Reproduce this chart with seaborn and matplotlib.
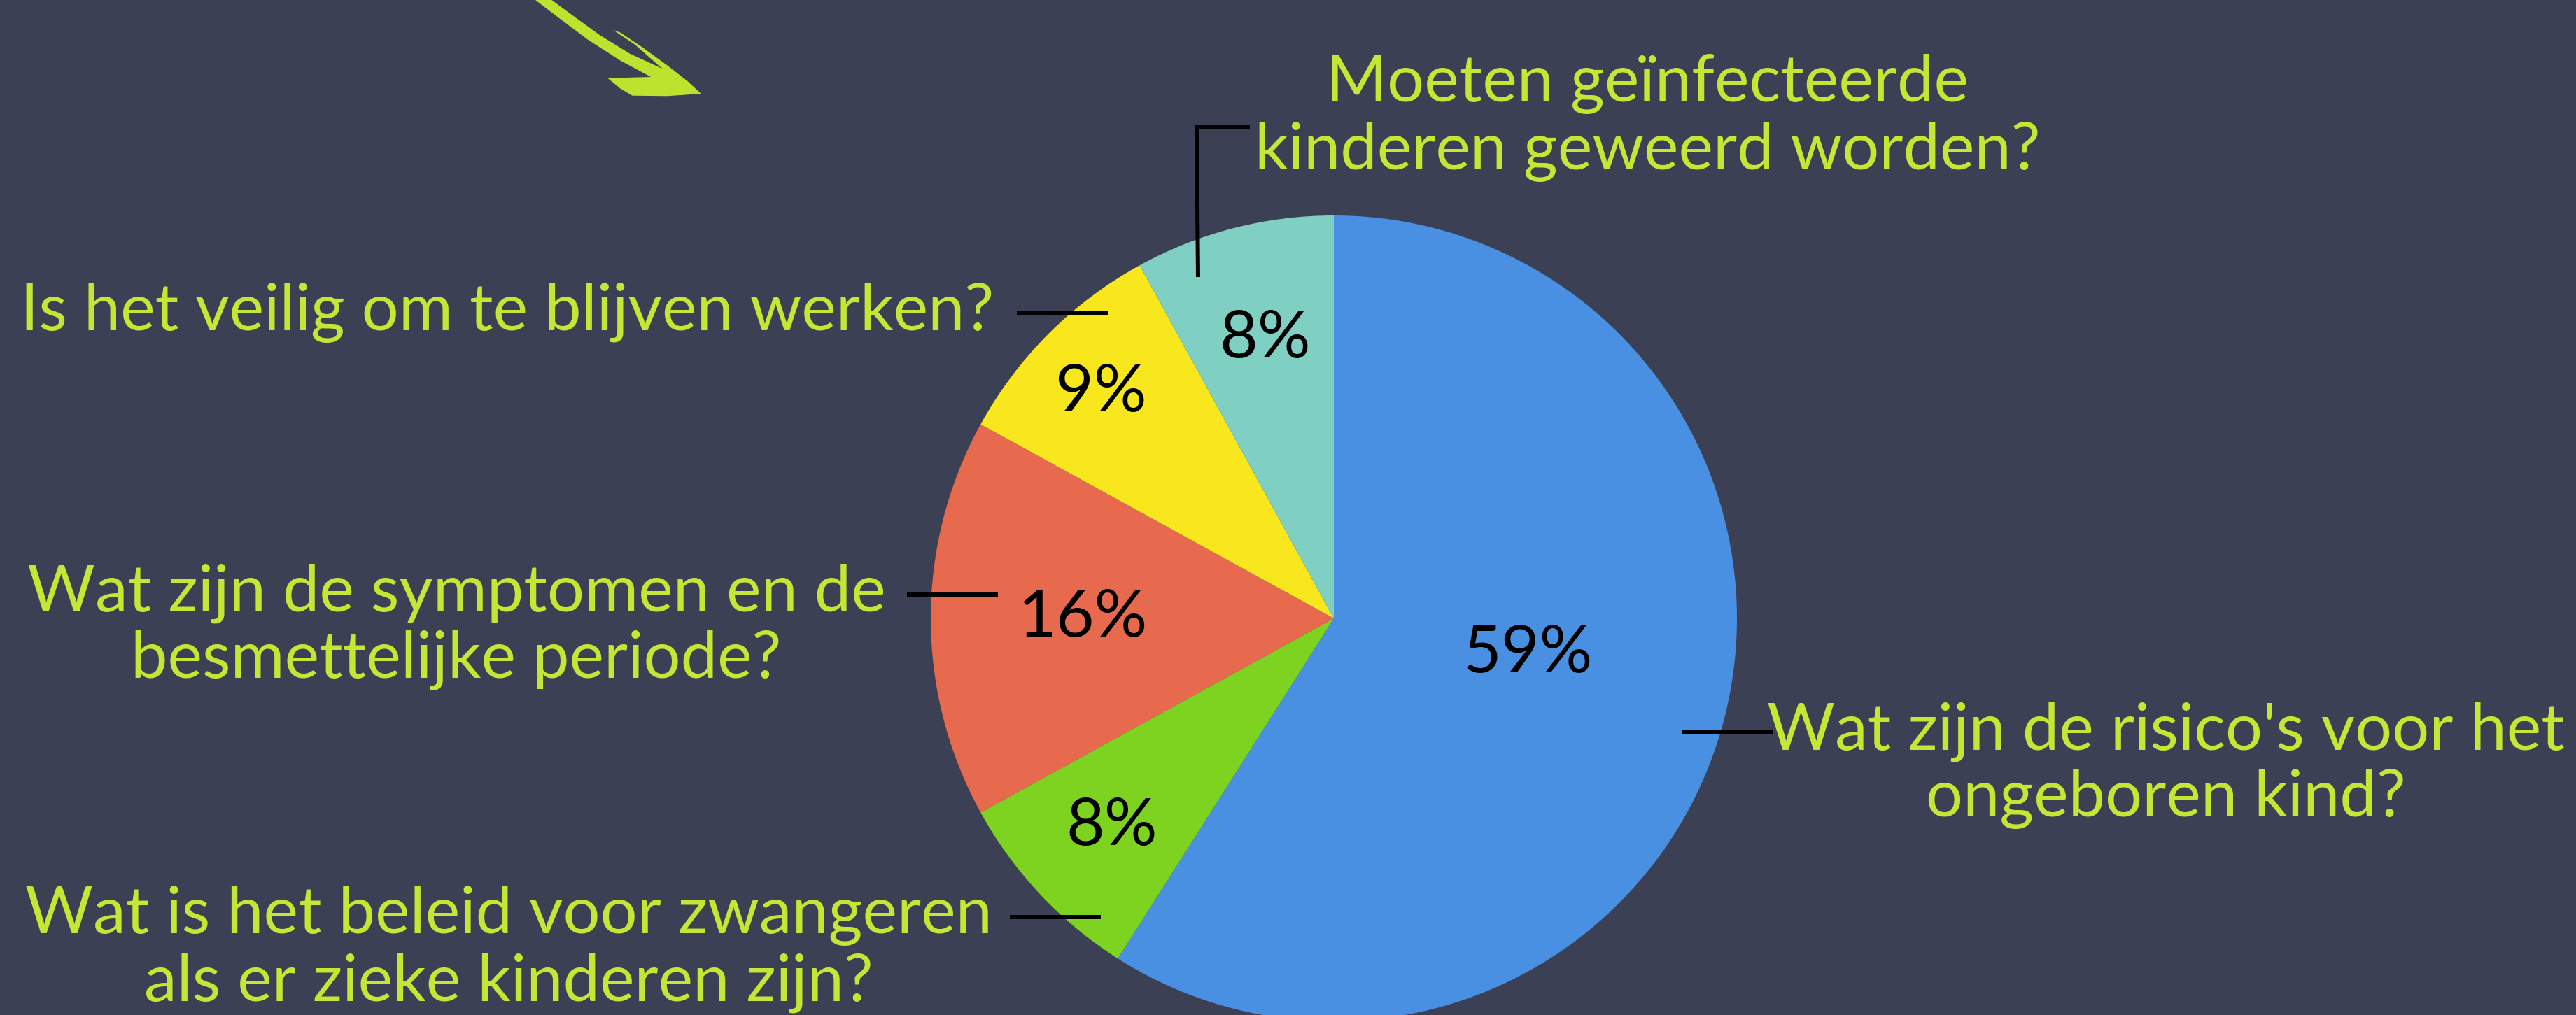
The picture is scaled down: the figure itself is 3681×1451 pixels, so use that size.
import matplotlib
matplotlib.use("Agg")
import matplotlib.pyplot as plt
import seaborn as sns
import numpy as np
from matplotlib.patches import Polygon

# ---------------- data ----------------
categories = [
    "Wat zijn de risico's voor het\nongeboren kind?",
    "Wat is het beleid voor zwangeren\nals er zieke kinderen zijn?",
    "Wat zijn de symptomen en de\nbesmettelijke periode?",
    "Is het veilig om te blijven werken?",
    "Moeten geïnfecteerde\nkinderen geweerd worden?",
]
values = [59, 8, 16, 9, 8]
colors = ["#4A90E2", "#7ED321", "#E86A4E", "#F8E71C", "#7FCFC3"]

# ---------------- style ----------------
sns.set_theme(style="white")
plt.rcParams["font.family"] = ["Lato", "DejaVu Sans"]

BG = "#3B4055"
LIME = "#C4E634"
W, H = 3681, 1451
cx, cy, R = 1906, H - 884, 576
FS = 67.5
FS_PCT = 68

fig = plt.figure(figsize=(W / 100, H / 100), dpi=100, facecolor=BG)
ax = fig.add_axes([0, 0, 1, 1])
ax.set_facecolor(BG)

wedges, _ = ax.pie(values, colors=colors, startangle=90, counterclock=False,
                   center=(cx, cy), radius=R, frame=False,
                   wedgeprops=dict(linewidth=0, antialiased=True))
ax.set_xlim(0, W)
ax.set_ylim(0, H)
ax.set_aspect("equal")
ax.axis("off")

# percentage labels: radial distance fraction and angle tweak per slice (style)
pct_dist = [0.49, 0.755, 0.623, 0.804, 0.714]
pct_ang = [5.8, 0, 0, 1, -0.5]
for w, v, d, da in zip(wedges, values, pct_dist, pct_ang):
    th = np.deg2rad((w.theta1 + w.theta2) / 2 + da)
    ax.text(cx + d * R * np.cos(th), cy + d * R * np.sin(th), f"{v}%",
            ha="center", va="center", fontsize=FS_PCT, color="black")

# category labels: (x center, baselines in image px from top)
label_layout = [
    (3095, [1072, 1167]),
    (727, [1334, 1431]),
    (652, [874, 969]),
    (725, [472]),
    (2354, [145, 242]),
]
for cat, (lx, bls) in zip(categories, label_layout):
    for line, bl in zip(cat.split("\n"), bls):
        ax.text(lx, H - bl, line, ha="center", va="baseline",
                fontsize=FS, color=LIME)

# leader lines (image px, y from top)
leaders = [
    [(2403, 1047), (2533, 1047)],
    [(1443, 1311), (1573, 1311)],
    [(1296, 850), (1426, 850)],
    [(1453, 447), (1583, 447)],
    [(1712, 396), (1710, 182), (1786, 182)],
]
for pts in leaders:
    xs = [p[0] for p in pts]
    ys = [H - p[1] for p in pts]
    ax.plot(xs, ys, color="black", lw=4.3, solid_capstyle="butt",
            solid_joinstyle="miter")

# decorative arrow at the top-left
arrow_pts = [(742, -30), (765, 0), (800, 26.7), (840, 56.7), (886.7, 86.7),
             (930, 110), (868.3, 111.7), (886.7, 126.7), (903.3, 136.7),
             (953.3, 137.3), (1001.7, 134), (983.3, 116.7), (953.3, 93.3),
             (916.7, 66.7), (886.7, 46.7), (876, 42.7), (881.7, 46.7),
             (906.7, 63.3), (933.3, 86.7), (946.7, 98.3), (900, 76.7),
             (856.7, 50), (820, 23.3), (788.3, 0), (768, -30)]
ax.add_patch(Polygon([(x, H - y) for x, y in arrow_pts], closed=True,
                     facecolor="#BEE32E", edgecolor="none", clip_on=True))

fig.savefig("out.png", dpi=100, facecolor=BG)
